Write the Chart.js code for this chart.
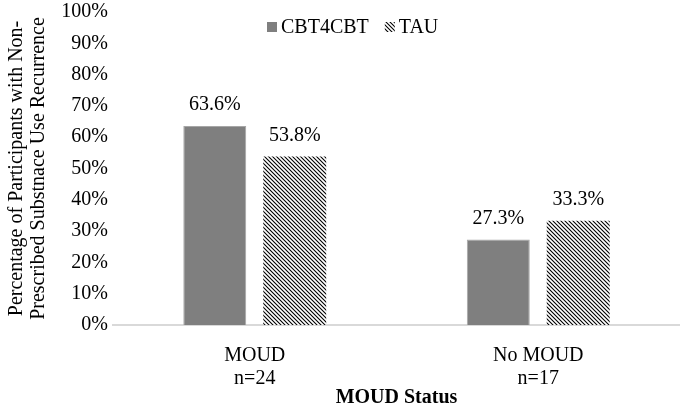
<!DOCTYPE html>
<html>
<head>
<meta charset="utf-8">
<script src="https://cdn.jsdelivr.net/npm/chart.js@4"></script>
<style>
  html, body { margin: 0; padding: 0; background: #fff; }
  #wrap { width: 680px; height: 410px; }
</style>
</head>
<body>
<div id="wrap"><canvas id="chart"></canvas></div>
<script>
const categories = [["MOUD", "n=24"], ["No MOUD", "n=17"]];
const seriesNames = ["CBT4CBT", "TAU"];
const cbtValues = [63.6, 27.3];
const tauValues = [53.8, 33.3];
const yTicks = [0, 10, 20, 30, 40, 50, 60, 70, 80, 90, 100];

const FONT = "'Liberation Serif', 'Times New Roman', serif";

function hatchPattern() {
    const c = document.createElement("canvas");
    c.width = 4;
    c.height = 4;
    const g = c.getContext("2d");
    g.fillStyle = "#fff";
    g.fillRect(0, 0, 4, 4);
    g.strokeStyle = "#000";
    g.lineWidth = 1.1;
    g.beginPath();
    g.moveTo(-1, -1); g.lineTo(5, 5);
    g.moveTo(-1, 3); g.lineTo(1, 5);
    g.moveTo(3, -1); g.lineTo(5, 1);
    g.stroke();
    return g.createPattern(c, "repeat");
}

const hatch = hatchPattern();

// value labels above each bar
const barLabels = {
    id: "barLabels",
    afterDatasetsDraw(chart) {
        const { ctx } = chart;
        ctx.save();
        ctx.font = "20px " + FONT;
        ctx.fillStyle = "#000";
        ctx.textAlign = "center";
        ctx.textBaseline = "middle";
        chart.data.datasets.forEach((ds, i) => {
            chart.getDatasetMeta(i).data.forEach((bar, j) => {
                ctx.fillText(ds.data[j].toFixed(1) + "%", bar.x, bar.y - 21);
            });
        });
        ctx.restore();
    }
};

// legend drawn inside the plot, near the top
const insideLegend = {
    id: "insideLegend",
    afterDraw(chart) {
        const { ctx } = chart;
        const y = 27;
        let x = 267;
        ctx.save();
        ctx.font = "20px " + FONT;
        ctx.textBaseline = "middle";
        ctx.textAlign = "left";
        chart.data.datasets.forEach((ds, i) => {
            ctx.fillStyle = ds.backgroundColor;
            ctx.fillRect(x, y - 5, 10, 10);
            x += 14;
            ctx.fillStyle = "#000";
            ctx.fillText(ds.label, x, y + 1);
            x += ctx.measureText(ds.label).width + 16;
        });
        ctx.restore();
    }
};

new Chart(document.getElementById("chart"), {
    type: "bar",
    data: {
        labels: categories,
        datasets: [
            {
                label: seriesNames[0],
                data: cbtValues,
                backgroundColor: "#7f7f7f",
                borderColor: "#a6a6a6",
                borderWidth: 1
            },
            {
                label: seriesNames[1],
                data: tauValues,
                backgroundColor: hatch,
                borderWidth: 0
            }
        ]
    },
    options: {
        responsive: true,
        maintainAspectRatio: false,
        animation: false,
        devicePixelRatio: 1,
        categoryPercentage: 0.564,
        barPercentage: 0.7875,
        layout: { padding: { top: 0, right: 0, bottom: 0, left: 0 } },
        plugins: {
            legend: { display: false },
            tooltip: { enabled: false }
        },
        scales: {
            x: {
                afterFit: (scale) => { scale.height = 85; },
                grid: { display: false, drawTicks: false },
                border: { display: true, color: "#d9d9d9", width: 2 },
                ticks: {
                    color: "#000",
                    padding: 19,
                    font: { family: FONT, size: 20, lineHeight: 1.15 }
                },
                title: {
                    display: true,
                    text: "MOUD Status",
                    color: "#000",
                    padding: { top: 0, bottom: 0 },
                    font: { family: FONT, size: 20, weight: "bold" }
                }
            },
            y: {
                min: 0,
                max: 100,
                afterBuildTicks: (scale) => {
                    scale.ticks = yTicks.map(v => ({ value: v }));
                },
                afterFit: (scale) => {
                    scale.width = 113;
                    scale.paddingTop = 12;
                    scale.paddingBottom = 0;
                },
                grid: { display: false, drawTicks: false },
                border: { display: false },
                ticks: {
                    color: "#000",
                    padding: 5,
                    font: { family: FONT, size: 20 },
                    callback: (v) => v + "%"
                },
                title: {
                    display: true,
                    text: ["Percentage of Participants with Non-", "Prescribed Substnace Use Recurrence"],
                    color: "#000",
                    padding: { top: 6, bottom: 0 },
                    font: { family: FONT, size: 20, lineHeight: 1.1 }
                }
            }
        }
    },
    plugins: [barLabels, insideLegend]
});
</script>
</body>
</html>
